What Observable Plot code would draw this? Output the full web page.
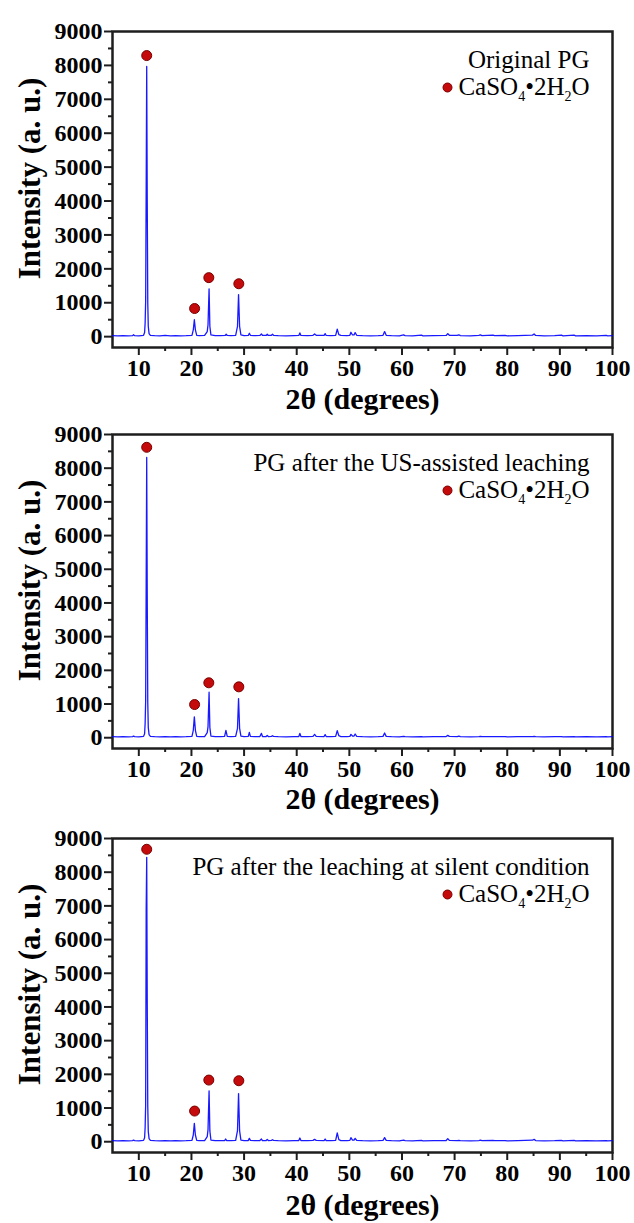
<!DOCTYPE html>
<html>
<head>
<meta charset="utf-8">
<script src="https://cdn.jsdelivr.net/npm/d3@7"></script>
<script src="https://cdn.jsdelivr.net/npm/@observablehq/plot@0.6"></script>
<style>
  html, body { margin: 0; padding: 0; background: #ffffff; }
  #chart { width: 634px; }
  #chart svg text { font-family: "Liberation Serif", "Times New Roman", serif; }
</style>
</head>
<body>
<div id="chart"></div>
<script>
// ---------- data (2θ in degrees, intensity in a.u.) ----------
const panelLabels = [
  "Original PG",
  "PG after the US-assisted leaching",
  "PG after the leaching at silent condition"
];
const phaseLabel = "CaSO4•2H2O";
const xTitle = "2θ (degrees)";
const yTitle = "Intensity (a. u.)";

const xDomain = [5, 100];
const yDomain = [-320, 9000];
const xMajorTicks = [10, 20, 30, 40, 50, 60, 70, 80, 90, 100];
const xMinorTicks = [15, 25, 35, 45, 55, 65, 75, 85, 95];
const yMajorTicks = [0, 1000, 2000, 3000, 4000, 5000, 6000, 7000, 8000, 9000];
const yMinorTicks = [500, 1500, 2500, 3500, 4500, 5500, 6500, 7500, 8500];

const patternOriginal = [
  [5, 30], [6, 25], [7, 30], [8, 25], [8.8, 30], [9.0, 55], [9.2, 30], [10, 25], [10.9, 40],
  [11.1, 120], [11.2, 400], [11.3, 1050], [11.4, 4400], [11.5, 7970], [11.6, 4000], [11.7, 1000], [11.8, 300], [11.95, 90], [12.2, 40],
  [13, 30], [14, 25], [15, 35], [16, 25], [17, 30], [18, 25], [19, 30], [20.1, 40],
  [20.35, 200], [20.55, 500], [20.75, 200], [21.0, 40],
  [21.5, 30], [22.5, 35], [23.0, 150], [23.15, 350], [23.35, 1410], [23.5, 300], [23.7, 50],
  [24.5, 30], [25.5, 30], [26.4, 35], [26.6, 70], [26.8, 35], [27.5, 30], [28.4, 40],
  [28.75, 300], [28.95, 1240], [29.15, 300], [29.4, 50],
  [30, 30], [30.8, 35], [31.0, 100], [31.2, 40], [32, 30], [33.0, 35], [33.3, 80], [33.5, 35],
  [34.2, 35], [34.4, 70], [34.6, 35], [35.2, 40], [35.4, 70], [35.6, 40], [36.5, 30], [38, 25],
  [39.5, 30], [40.4, 35], [40.6, 110], [40.8, 35], [42, 30], [43.1, 40], [43.4, 80], [43.7, 40],
  [45.2, 35], [45.4, 90], [45.6, 35], [46.5, 30], [47.4, 40], [47.7, 220], [48.0, 60], [48.4, 35],
  [49.5, 30], [50.1, 40], [50.3, 130], [50.6, 50], [50.9, 50], [51.1, 120], [51.4, 40], [52.5, 30],
  [54, 25], [55.5, 30], [56.4, 40], [56.7, 150], [57.0, 40], [58, 30], [59.5, 25], [60.3, 50],
  [60.6, 30], [62, 25], [63.7, 45], [64, 25], [66, 30], [68.4, 35], [68.7, 90], [69.0, 40],
  [70.5, 35], [70.8, 55], [71.1, 30], [73, 25], [74.6, 35], [74.9, 50], [75.2, 30], [77.3, 45],
  [77.6, 30], [79.6, 40], [80, 25], [82, 30], [84.8, 45], [85.1, 80], [85.4, 35], [87, 25],
  [89, 30], [90.3, 45], [90.6, 25], [92.7, 45], [93, 25], [95, 30], [97, 25], [98.8, 40], [99.1, 25], [100, 30]
];

const patternUS = [
  [5, 30], [6, 25], [7, 30], [8, 25], [8.8, 30], [9.0, 45], [9.2, 30], [10, 25], [10.9, 40],
  [11.1, 120], [11.2, 420], [11.3, 1100], [11.4, 4600], [11.5, 8320], [11.6, 4200], [11.7, 1050], [11.8, 300], [11.95, 90], [12.2, 40],
  [13, 30], [14, 25], [15, 35], [16, 25], [17, 30], [18, 25], [19, 30], [20.1, 40],
  [20.35, 220], [20.55, 620], [20.75, 220], [21.0, 40],
  [21.5, 30], [22.5, 35], [23.0, 150], [23.15, 330], [23.35, 1350], [23.5, 300], [23.7, 50],
  [24.5, 30], [25.5, 30], [26.3, 40], [26.55, 220], [26.8, 40], [27.5, 30], [28.4, 40],
  [28.75, 280], [28.95, 1160], [29.15, 280], [29.4, 50],
  [30, 30], [30.8, 40], [31.0, 160], [31.2, 40], [32, 30], [33.0, 35], [33.3, 130], [33.5, 35],
  [34.2, 35], [34.4, 70], [34.6, 35], [35.2, 40], [35.4, 60], [35.6, 40], [36.5, 30], [38, 25],
  [39.5, 30], [40.4, 35], [40.6, 130], [40.8, 35], [42, 30], [43.1, 40], [43.4, 100], [43.7, 40],
  [45.2, 35], [45.4, 90], [45.6, 35], [46.5, 30], [47.4, 40], [47.7, 210], [48.0, 60], [48.4, 35],
  [49.5, 30], [50.1, 40], [50.3, 100], [50.6, 50], [50.9, 50], [51.1, 110], [51.4, 40], [52.5, 30],
  [54, 25], [55.5, 30], [56.4, 40], [56.7, 140], [57.0, 40], [58, 30], [59.5, 25], [60.3, 40],
  [60.6, 30], [62, 25], [63.7, 35], [64, 25], [66, 30], [68.4, 35], [68.7, 70], [69.0, 40],
  [70.5, 35], [70.8, 50], [71.1, 30], [73, 25], [74.6, 35], [74.9, 40], [75.2, 30], [77.3, 35],
  [77.6, 30], [79.6, 35], [80, 25], [82, 30], [84.8, 35], [85.1, 40], [85.4, 30], [87, 25],
  [89, 30], [90.3, 35], [90.6, 25], [92.7, 35], [93, 25], [95, 30], [97, 25], [98.8, 30], [99.1, 25], [100, 30]
];

const patternSilent = [
  [5, 30], [6, 25], [7, 30], [8, 25], [8.8, 30], [9.0, 45], [9.2, 30], [10, 25], [10.9, 40],
  [11.1, 120], [11.2, 420], [11.3, 1100], [11.4, 6900], [11.5, 8440], [11.6, 4200], [11.7, 1050], [11.8, 300], [11.95, 90], [12.2, 40],
  [13, 30], [14, 25], [15, 35], [16, 25], [17, 30], [18, 25], [19, 30], [20.1, 40],
  [20.35, 200], [20.55, 545], [20.75, 200], [21.0, 40],
  [21.5, 30], [22.5, 35], [23.0, 150], [23.15, 360], [23.35, 1510], [23.5, 320], [23.7, 50],
  [24.5, 30], [25.5, 30], [26.3, 35], [26.5, 80], [26.7, 35], [27.5, 30], [28.4, 40],
  [28.75, 330], [28.95, 1430], [29.15, 320], [29.4, 50],
  [30, 30], [30.8, 35], [31.0, 100], [31.2, 40], [32, 30], [33.0, 35], [33.3, 80], [33.5, 35],
  [34.2, 35], [34.4, 70], [34.6, 35], [35.2, 40], [35.4, 60], [35.6, 40], [36.5, 30], [38, 25],
  [39.5, 30], [40.4, 35], [40.6, 110], [40.8, 35], [42, 30], [43.1, 40], [43.4, 70], [43.7, 40],
  [45.2, 35], [45.4, 80], [45.6, 35], [46.5, 30], [47.4, 40], [47.7, 260], [48.0, 60], [48.4, 35],
  [49.5, 30], [50.1, 40], [50.3, 120], [50.6, 50], [50.9, 50], [51.1, 100], [51.4, 40], [52.5, 30],
  [54, 25], [55.5, 30], [56.4, 40], [56.7, 120], [57.0, 40], [58, 30], [59.5, 25], [60.3, 45],
  [60.6, 30], [62, 25], [63.7, 40], [64, 25], [66, 30], [68.4, 35], [68.7, 90], [69.0, 40],
  [70.5, 35], [70.8, 40], [71.1, 30], [73, 25], [74.6, 35], [74.9, 45], [75.2, 30], [77.3, 40],
  [77.6, 30], [79.6, 35], [80, 25], [82, 30], [84.8, 45], [85.1, 70], [85.4, 35], [87, 25],
  [89, 30], [90.3, 40], [90.6, 25], [92.7, 40], [93, 25], [95, 30], [97, 25], [98.8, 35], [99.1, 25], [100, 30]
];

// gypsum (CaSO4·2H2O) reflection markers [2θ, marker height]
const markersOriginal = [[11.5, 8290], [20.6, 830], [23.3, 1740], [29.0, 1560]];
const markersUS       = [[11.5, 8620], [20.6, 985], [23.3, 1630], [29.0, 1510]];
const markersSilent   = [[11.5, 8680], [20.6, 910], [23.3, 1830], [29.0, 1810]];

// ---------- layout ----------
const SERIF = "'Liberation Serif', 'Times New Roman', serif";
const layouts = [
  {height: 418, marginTop: 31, marginBottom: 71, titleDy: 61},
  {height: 404, marginTop: 16, marginBottom: 74, titleDy: 60},
  {height: 401, marginTop: 16, marginBottom: 71, titleDy: 62}
];
const patterns = [patternOriginal, patternUS, patternSilent];
const markers = [markersOriginal, markersUS, markersSilent];
const AXIS = "#1e1e1e";
const fmt = d => String(d);

function makePanel(i) {
  const L = layouts[i];
  return Plot.plot({
    width: 634,
    height: L.height,
    marginLeft: 112,
    marginRight: 22,
    marginTop: L.marginTop,
    marginBottom: L.marginBottom,
    style: {fontFamily: SERIF},
    x: {domain: xDomain, axis: null},
    y: {domain: yDomain, axis: null},
    marks: [
      Plot.frame({stroke: AXIS, strokeWidth: 2.5}),
      Plot.line(patterns[i], {x: d => d[0], y: d => d[1], stroke: "blue", strokeWidth: 1.3, strokeOpacity: 0.9}),
      Plot.dot(markers[i], {x: d => d[0], y: d => d[1], r: 5, fill: "#c40a0a", stroke: "#7a0000", strokeWidth: 1}),
      Plot.axisX(xMajorTicks, {anchor: "bottom", tickSize: 8, tickPadding: 3, tickFormat: fmt, fontSize: 24, fontWeight: "bold", label: null, stroke: AXIS, strokeWidth: 2}),
      Plot.axisX(xMinorTicks, {anchor: "bottom", tickSize: 4, tickFormat: () => "", label: null, stroke: AXIS, strokeWidth: 2}),
      Plot.axisY(yMajorTicks, {anchor: "left", tickSize: 8, tickPadding: 2, tickFormat: fmt, fontSize: 24, fontWeight: "bold", label: null, stroke: AXIS, strokeWidth: 2}),
      Plot.axisY(yMinorTicks, {anchor: "left", tickSize: 4, tickFormat: () => "", label: null, stroke: AXIS, strokeWidth: 2}),
      Plot.text([yTitle], {text: d => d, frameAnchor: "left", rotate: -90, dx: -82, dy: -11, fontSize: 31, fontWeight: "bold", lineAnchor: "middle", textAnchor: "middle"}),
      Plot.text([xTitle], {text: d => d, frameAnchor: "bottom", lineAnchor: "bottom", dy: L.titleDy, fontSize: 30, fontWeight: "bold"}),
      Plot.text([panelLabels[i]], {text: d => d, frameAnchor: "top-right", textAnchor: "end", lineAnchor: "bottom", dx: -23, dy: 36, fontSize: 25}),
      Plot.text([phaseLabel], {text: d => d, frameAnchor: "top-right", textAnchor: "end", lineAnchor: "bottom", dx: -23, dy: 63, fontSize: 25}),
      Plot.dot([phaseLabel], {frameAnchor: "top-right", dx: -165, dy: 56, r: 4.5, fill: "#c40a0a", stroke: "#7a0000", strokeWidth: 1})
    ]
  });
}

const chart = document.getElementById("chart");
for (let i = 0; i < 3; i++) chart.appendChild(makePanel(i));

// chemical formula with subscripts
chart.querySelectorAll("text").forEach(t => {
  if (t.textContent === phaseLabel) {
    const parts = [["CaSO", false], ["4", true], ["•2H", false], ["2", true], ["O", false]];
    while (t.firstChild) t.removeChild(t.firstChild);
    let wasSub = false;
    for (const [s, sub] of parts) {
      const ts = document.createElementNS("http://www.w3.org/2000/svg", "tspan");
      ts.textContent = s;
      if (sub) { ts.setAttribute("font-size", "14"); ts.setAttribute("dy", "6"); }
      else if (wasSub) { ts.setAttribute("dy", "-6"); }
      wasSub = sub;
      t.appendChild(ts);
    }
  }
});
</script>
</body>
</html>
